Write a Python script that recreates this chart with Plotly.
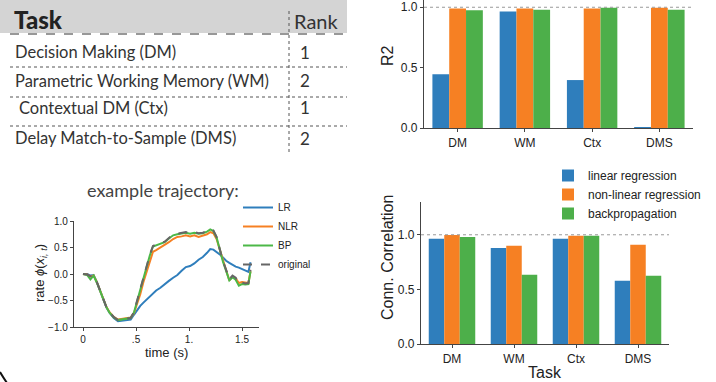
import plotly.graph_objects as go

W, H = 716, 382

# ---------------- data ----------------
tasks = ["DM", "WM", "Ctx", "DMS"]
methods = ["linear regression", "non-linear regression", "backpropagation"]
colors = ["#2f7ebc", "#f68023", "#4daf4a"]

r2_linear = [0.446, 0.965, 0.397, 0.003]
r2_nonlinear = [0.99, 0.99, 0.99, 0.995]
r2_backprop = [0.975, 0.98, 0.995, 0.98]

cc_linear = [0.963, 0.878, 0.963, 0.579]
cc_nonlinear = [0.997, 0.899, 0.99, 0.908]
cc_backprop = [0.98, 0.634, 0.99, 0.625]

table_tasks = ["Decision Making (DM)", "Parametric Working Memory (WM)",
               "Contextual DM (Ctx)", "Delay Match-to-Sample (DMS)"]
table_ranks = ["1", "2", "1", "2"]

time_s = [0.00, 0.04, 0.07, 0.10, 0.13, 0.16, 0.19, 0.22, 0.25, 0.29, 0.33, 0.37,
          0.41, 0.45, 0.48, 0.51, 0.54, 0.57, 0.60, 0.63, 0.66, 0.69, 0.73, 0.77,
          0.81, 0.85, 0.89, 0.93, 0.97, 1.01, 1.05, 1.09, 1.13, 1.17, 1.20, 1.23,
          1.26, 1.29, 1.32, 1.35, 1.38, 1.41, 1.44, 1.47, 1.50, 1.53, 1.56, 1.58]
rate_original = [0.00, -0.01, -0.04, -0.03, -0.15, -0.30, -0.46, -0.62, -0.72, -0.81, -0.87, -0.86,
                 -0.85, -0.83, -0.72, -0.50, -0.25, -0.03, 0.18, 0.36, 0.53, 0.55, 0.59, 0.61,
                 0.68, 0.74, 0.76, 0.78, 0.79, 0.77, 0.79, 0.77, 0.78, 0.81, 0.85, 0.82,
                 0.70, 0.47, 0.24, 0.08, -0.10, -0.03, -0.07, -0.19, -0.16, -0.18, -0.17, 0.08]
rate_bp = [0.00, -0.02, -0.10, -0.03, -0.16, -0.31, -0.47, -0.62, -0.73, -0.82, -0.87, -0.86,
           -0.85, -0.83, -0.73, -0.51, -0.26, -0.04, 0.17, 0.35, 0.52, 0.54, 0.58, 0.60,
           0.67, 0.73, 0.75, 0.77, 0.78, 0.76, 0.78, 0.76, 0.77, 0.80, 0.84, 0.81,
           0.69, 0.46, 0.23, 0.06, -0.12, -0.06, -0.11, -0.22, -0.19, -0.20, -0.19, 0.05]
rate_nlr = [0.00, -0.01, -0.05, -0.03, -0.15, -0.30, -0.46, -0.62, -0.72, -0.81, -0.86, -0.85,
            -0.84, -0.82, -0.74, -0.58, -0.38, -0.15, 0.05, 0.25, 0.42, 0.45, 0.50, 0.54,
            0.60, 0.66, 0.70, 0.71, 0.73, 0.71, 0.73, 0.70, 0.72, 0.75, 0.79, 0.77,
            0.66, 0.45, 0.23, 0.07, -0.12, -0.05, -0.08, -0.17, -0.15, -0.16, -0.17, 0.05]
rate_lr = [0.00, 0.00, -0.03, -0.02, -0.15, -0.30, -0.47, -0.63, -0.73, -0.83, -0.89, -0.88,
           -0.88, -0.86, -0.77, -0.68, -0.60, -0.54, -0.48, -0.42, -0.36, -0.31, -0.26, -0.19,
           -0.13, -0.07, -0.02, 0.06, 0.13, 0.15, 0.20, 0.27, 0.32, 0.40, 0.47, 0.46,
           0.42, 0.37, 0.31, 0.25, 0.21, 0.17, 0.14, 0.12, 0.09, 0.07, 0.04, 0.22]

traj_names = ["LR", "NLR", "BP", "original"]
traj_x_ticks = [0, 0.5, 1.0, 1.5]
traj_x_ticktext = ["0", ".5", "1.", "1.5"]

FONT = "Liberation Sans, Arial, sans-serif"
HFONT = "Lato, Open Sans, sans-serif"


def px(x):
    return x / W


def py(y):
    return 1 - y / H


fig = go.Figure()

# R2 bars (top right)
for name, vals, c in zip(methods, [r2_linear, r2_nonlinear, r2_backprop], colors):
    fig.add_trace(go.Bar(x=tasks, y=vals, name=name, marker_color=c, marker_line_width=0,
                         xaxis="x", yaxis="y", offsetgroup=name, showlegend=False))

# Connectivity correlation bars (bottom right)
for name, vals, c in zip(methods, [cc_linear, cc_nonlinear, cc_backprop], colors):
    fig.add_trace(go.Bar(x=tasks, y=vals, name=name, marker_color=c, marker_line_width=0,
                         xaxis="x3", yaxis="y3", offsetgroup=name, legend="legend"))

# trajectory lines (bottom left)
line_cols = ["#2f7ebc", "#f68023", "#4cb848", "#666666"]
for name, vals, c in zip(traj_names, [rate_lr, rate_nlr, rate_bp, rate_original], line_cols):
    fig.add_trace(go.Scatter(x=time_s, y=vals, mode="lines", name=name,
                             line=dict(color=c, width=2, dash="dash" if name == "original" else "solid"),
                             xaxis="x2", yaxis="y2", legend="legend2"))

axis_common = dict(showline=True, linecolor="#444", linewidth=1.3, showgrid=False,
                   zeroline=False, ticks="outside", ticklen=3, tickcolor="#444",
                   automargin=False,
                   tickfont=dict(family=FONT, size=12, color="#222"))
small_tick = {**axis_common, "tickfont": dict(family=FONT, size=10, color="#222")}

fig.update_layout(
    width=W, height=H, margin=dict(l=0, r=0, t=0, b=0, autoexpand=False),
    paper_bgcolor="white", plot_bgcolor="white",
    barmode="group", bargap=0.25, bargroupgap=0,
    xaxis=dict(domain=[px(424), px(693)], range=[-0.5, 3.5], anchor="y", **axis_common),
    yaxis=dict(domain=[py(128), 1.0], range=[0, 1.06], anchor="x",
               tickvals=[0, 0.5, 1.0], tickformat=".1f", **axis_common),
    xaxis3=dict(domain=[px(421), px(669)], range=[-0.5, 3.5], anchor="y3", **axis_common),
    yaxis3=dict(domain=[py(344), py(202)], range=[0, 1.3], anchor="x3",
                tickvals=[0, 0.5, 1.0], tickformat=".1f", **axis_common),
    xaxis2=dict(domain=[px(74), px(259)], range=[-0.085, 1.66], anchor="y2",
                tickvals=traj_x_ticks, ticktext=traj_x_ticktext, **small_tick),
    yaxis2=dict(domain=[py(327), py(221)], range=[-1.0, 1.0], anchor="x2",
                tickvals=[-1, -0.5, 0, 0.5, 1], tickformat=".1f", **small_tick),
    legend=dict(x=px(548), y=py(161), xanchor="left", yanchor="top",
                font=dict(family=FONT, size=12, color="#222"), bgcolor="rgba(0,0,0,0)",
                tracegroupgap=0),
    legend2=dict(x=px(238), y=py(193), xanchor="left", yanchor="top",
                 font=dict(family=FONT, size=10, color="#222"), bgcolor="rgba(0,0,0,0)"),
)

shapes = []
# reference dotted lines at 1.0
for xa, ya in [("x", "y"), ("x3", "y3")]:
    shapes.append(dict(type="line", xref=f"{xa} domain", yref=ya, x0=0, x1=1, y0=1.0, y1=1.0,
                       line=dict(color="#999", width=1, dash="dot")))

# table decoration
shapes.append(dict(type="rect", xref="paper", yref="paper", x0=0, x1=px(347), y0=py(33), y1=1,
                   fillcolor="#d4d4d4", line=dict(width=0), layer="below"))
shapes.append(dict(type="line", xref="paper", yref="paper", x0=px(10), x1=px(347), y0=py(34), y1=py(34),
                   line=dict(color="#333", width=1.2, dash="dash")))
for yy in [67, 97, 126]:
    shapes.append(dict(type="line", xref="paper", yref="paper", x0=px(10), x1=px(347), y0=py(yy), y1=py(yy),
                       line=dict(color="#555", width=1, dash="dot")))
shapes.append(dict(type="line", xref="paper", yref="paper", x0=px(289), x1=px(289), y0=py(11), y1=py(153),
                   line=dict(color="#555", width=1, dash="dot")))
# corner arc
shapes.append(dict(type="path", xref="paper", yref="paper",
                   path=f"M 0,{py(372)} Q {px(3)},{py(377)} {px(7)},{py(383)}",
                   line=dict(color="#111", width=2)))
fig.update_layout(shapes=shapes)


def note(text, x, y, size, family=FONT, color="#222", xanchor="center", angle=0, weight="normal"):
    return dict(text=text, x=px(x), y=py(y), xref="paper", yref="paper", xanchor=xanchor,
                yanchor="middle", showarrow=False, textangle=angle,
                font=dict(family=family, size=size, color=color, weight=weight))


ann = [note("Task", 12, 20, 24, HFONT, "#222", "left", weight=900),
       note("Rank", 292, 21, 20, HFONT, "#333", "left")]
row_y = [52, 81, 108, 138]
row_x = [13, 13, 17, 13]
for t, r, yy, xx in zip(table_tasks, table_ranks, row_y, row_x):
    ann.append(note(t, xx, yy, 16.5, HFONT, "#333", "left"))
    ann.append(note(r, 298, yy, 17, HFONT, "#333", "left"))

ann.append(note("R2", 388, 56, 16, angle=-90))
ann.append(note("Conn. Correlation", 387, 258, 16, angle=-90))
ann.append(note("Task", 545, 372, 16))
ann.append(note("example trajectory:", 163, 190, 18, HFONT, "#444"))
ann.append(note("time (s)", 166, 352, 13))
ann.append(note("rate <i>ϕ</i>(<i>x</i><sub><i>i, t</i></sub>)", 40, 273, 13, angle=-90))
fig.update_layout(annotations=ann)

fig.write_html("out.html", config={"displayModeBar": False},
               post_script="document.body.style.margin='0';document.body.style.padding='0';")
